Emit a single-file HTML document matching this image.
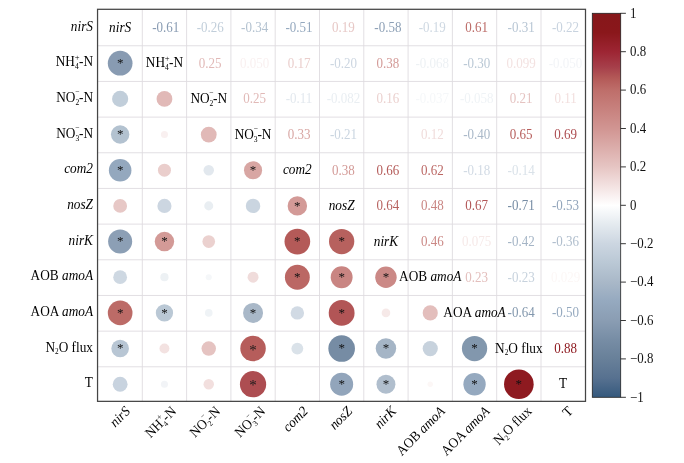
<!DOCTYPE html><html><head><meta charset="utf-8"><style>html,body{margin:0;padding:0;background:#fff;width:684px;height:463px;overflow:hidden;position:relative}svg text{font-family:"Liberation Serif",serif}</style></head><body><svg width="684" height="463" viewBox="0 0 684 463" style="position:absolute;left:0;top:0;will-change:transform;filter:blur(0.45px)">
<defs><linearGradient id="cb" x1="0" y1="0" x2="0" y2="1">
<stop offset="0.000" stop-color="#86171a"/>
<stop offset="0.050" stop-color="#8a171b"/>
<stop offset="0.100" stop-color="#9d2533"/>
<stop offset="0.140" stop-color="#a63f4a"/>
<stop offset="0.170" stop-color="#b45a58"/>
<stop offset="0.200" stop-color="#be6e6a"/>
<stop offset="0.300" stop-color="#d19592"/>
<stop offset="0.400" stop-color="#e6c5c3"/>
<stop offset="0.450" stop-color="#f3e2e1"/>
<stop offset="0.500" stop-color="#ffffff"/>
<stop offset="0.550" stop-color="#e4eaef"/>
<stop offset="0.600" stop-color="#ccd6e1"/>
<stop offset="0.650" stop-color="#bac8d5"/>
<stop offset="0.700" stop-color="#a9b8c8"/>
<stop offset="0.750" stop-color="#95a9bf"/>
<stop offset="0.800" stop-color="#8a9db3"/>
<stop offset="0.850" stop-color="#778da5"/>
<stop offset="0.900" stop-color="#688099"/>
<stop offset="0.950" stop-color="#577190"/>
<stop offset="1.000" stop-color="#35597d"/>
</linearGradient></defs>
<rect width="684" height="463" fill="#fff"/>
<path d="M142.30 9.3V401.35M97.55 45.77H585.5M186.60 9.3V401.35M97.55 81.44H585.5M230.90 9.3V401.35M97.55 117.11H585.5M275.20 9.3V401.35M97.55 152.78H585.5M319.50 9.3V401.35M97.55 188.45H585.5M363.80 9.3V401.35M97.55 224.12H585.5M408.10 9.3V401.35M97.55 259.79H585.5M452.40 9.3V401.35M97.55 295.46H585.5M496.70 9.3V401.35M97.55 331.13H585.5M541.00 9.3V401.35M97.55 366.80H585.5" stroke="#dfdbe0" stroke-width="0.9" fill="none"/>
<circle cx="120.15" cy="63.20" r="12.34" fill="#889bb2"/>
<circle cx="120.15" cy="98.88" r="8.06" fill="#c1ceda"/>
<circle cx="164.45" cy="98.88" r="7.90" fill="#e1b9b7"/>
<circle cx="120.15" cy="134.54" r="9.21" fill="#b3c2d0"/>
<circle cx="164.45" cy="134.54" r="3.53" fill="#f9f0f0"/>
<circle cx="208.75" cy="134.54" r="7.90" fill="#e1b9b7"/>
<circle cx="120.15" cy="170.22" r="11.28" fill="#94a8be"/>
<circle cx="164.45" cy="170.22" r="6.51" fill="#eacecc"/>
<circle cx="208.75" cy="170.22" r="5.24" fill="#e2e8ee"/>
<circle cx="253.05" cy="170.22" r="9.08" fill="#d8a6a3"/>
<circle cx="120.15" cy="205.88" r="6.89" fill="#e7c8c6"/>
<circle cx="164.45" cy="205.88" r="7.07" fill="#ccd6e1"/>
<circle cx="208.75" cy="205.88" r="4.52" fill="#e9eef2"/>
<circle cx="253.05" cy="205.88" r="7.24" fill="#cad5e0"/>
<circle cx="297.35" cy="205.88" r="9.74" fill="#d39a97"/>
<circle cx="120.15" cy="241.56" r="12.03" fill="#8c9fb5"/>
<circle cx="164.45" cy="241.56" r="9.74" fill="#d39a97"/>
<circle cx="208.75" cy="241.56" r="6.32" fill="#ebd1cf"/>
<circle cx="253.05" cy="241.56" r="1.00" fill="#fffefe"/>
<circle cx="297.35" cy="241.56" r="12.84" fill="#b45a58"/>
<circle cx="341.65" cy="241.56" r="12.64" fill="#b7615e"/>
<circle cx="120.15" cy="277.23" r="6.89" fill="#ced8e2"/>
<circle cx="164.45" cy="277.23" r="4.12" fill="#edf1f4"/>
<circle cx="208.75" cy="277.23" r="3.04" fill="#f5f7f9"/>
<circle cx="253.05" cy="277.23" r="5.47" fill="#f0dcdb"/>
<circle cx="297.35" cy="277.23" r="12.44" fill="#bb6764"/>
<circle cx="341.65" cy="277.23" r="10.95" fill="#c98582"/>
<circle cx="385.95" cy="277.23" r="10.72" fill="#cb8986"/>
<circle cx="120.15" cy="312.89" r="12.34" fill="#bc6b67"/>
<circle cx="164.45" cy="312.89" r="8.65" fill="#bac8d5"/>
<circle cx="208.75" cy="312.89" r="3.81" fill="#eff3f6"/>
<circle cx="253.05" cy="312.89" r="9.99" fill="#a9b8c8"/>
<circle cx="297.35" cy="312.89" r="6.70" fill="#d1dae4"/>
<circle cx="341.65" cy="312.89" r="12.93" fill="#b25556"/>
<circle cx="385.95" cy="312.89" r="4.33" fill="#f6e9e8"/>
<circle cx="430.25" cy="312.89" r="7.58" fill="#e3bebc"/>
<circle cx="120.15" cy="348.56" r="8.80" fill="#b8c6d4"/>
<circle cx="164.45" cy="348.56" r="4.97" fill="#f3e2e1"/>
<circle cx="208.75" cy="348.56" r="7.24" fill="#e5c3c1"/>
<circle cx="253.05" cy="348.56" r="12.74" fill="#b65d5b"/>
<circle cx="297.35" cy="348.56" r="5.91" fill="#dae2e9"/>
<circle cx="341.65" cy="348.56" r="13.31" fill="#768ca4"/>
<circle cx="385.95" cy="348.56" r="10.24" fill="#a5b5c6"/>
<circle cx="430.25" cy="348.56" r="7.58" fill="#c7d2dd"/>
<circle cx="474.55" cy="348.56" r="12.64" fill="#8297ad"/>
<circle cx="120.15" cy="384.24" r="7.41" fill="#c8d3df"/>
<circle cx="164.45" cy="384.24" r="3.53" fill="#f2f4f7"/>
<circle cx="208.75" cy="384.24" r="5.24" fill="#f2dfde"/>
<circle cx="253.05" cy="384.24" r="13.12" fill="#ad4d51"/>
<circle cx="297.35" cy="384.24" r="1.00" fill="#fffefe"/>
<circle cx="341.65" cy="384.24" r="11.50" fill="#92a5bb"/>
<circle cx="385.95" cy="384.24" r="9.48" fill="#b0becd"/>
<circle cx="430.25" cy="384.24" r="2.69" fill="#fcf7f6"/>
<circle cx="474.55" cy="384.24" r="11.17" fill="#95a9bf"/>
<circle cx="518.85" cy="384.24" r="14.82" fill="#8e1a20"/>
<g font-family="Liberation Serif" font-size="14">
<text transform="translate(165.77 31.84) scale(0.93 1)" text-anchor="middle" fill="#889bb2">-0.61</text>
<text transform="translate(210.19 31.84) scale(0.93 1)" text-anchor="middle" fill="#c1ceda">-0.26</text>
<text transform="translate(254.61 31.84) scale(0.93 1)" text-anchor="middle" fill="#b3c2d0">-0.34</text>
<text transform="translate(299.03 31.84) scale(0.93 1)" text-anchor="middle" fill="#94a8be">-0.51</text>
<text transform="translate(343.45 31.84) scale(0.93 1)" text-anchor="middle" fill="#e7c8c6">0.19</text>
<text transform="translate(387.87 31.84) scale(0.93 1)" text-anchor="middle" fill="#8c9fb5">-0.58</text>
<text transform="translate(432.29 31.84) scale(0.93 1)" text-anchor="middle" fill="#ced8e2">-0.19</text>
<text transform="translate(476.71 31.84) scale(0.93 1)" text-anchor="middle" fill="#bc6b67">0.61</text>
<text transform="translate(521.13 31.84) scale(0.93 1)" text-anchor="middle" fill="#b8c6d4">-0.31</text>
<text transform="translate(565.55 31.84) scale(0.93 1)" text-anchor="middle" fill="#c8d3df">-0.22</text>
<text transform="translate(210.19 67.50) scale(0.93 1)" text-anchor="middle" fill="#e1b9b7">0.25</text>
<text transform="translate(254.61 67.50) scale(0.93 1)" text-anchor="middle" fill="#f9f0f0">0.050</text>
<text transform="translate(299.03 67.50) scale(0.93 1)" text-anchor="middle" fill="#eacecc">0.17</text>
<text transform="translate(343.45 67.50) scale(0.93 1)" text-anchor="middle" fill="#ccd6e1">-0.20</text>
<text transform="translate(387.87 67.50) scale(0.93 1)" text-anchor="middle" fill="#d39a97">0.38</text>
<text transform="translate(432.29 67.50) scale(0.93 1)" text-anchor="middle" fill="#edf1f4">-0.068</text>
<text transform="translate(476.71 67.50) scale(0.93 1)" text-anchor="middle" fill="#bac8d5">-0.30</text>
<text transform="translate(521.13 67.50) scale(0.93 1)" text-anchor="middle" fill="#f3e2e1">0.099</text>
<text transform="translate(565.55 67.50) scale(0.93 1)" text-anchor="middle" fill="#f2f4f7">-0.050</text>
<text transform="translate(254.61 103.18) scale(0.93 1)" text-anchor="middle" fill="#e1b9b7">0.25</text>
<text transform="translate(299.03 103.18) scale(0.93 1)" text-anchor="middle" fill="#e2e8ee">-0.11</text>
<text transform="translate(343.45 103.18) scale(0.93 1)" text-anchor="middle" fill="#e9eef2">-0.082</text>
<text transform="translate(387.87 103.18) scale(0.93 1)" text-anchor="middle" fill="#ebd1cf">0.16</text>
<text transform="translate(432.29 103.18) scale(0.93 1)" text-anchor="middle" fill="#f5f7f9">-0.037</text>
<text transform="translate(476.71 103.18) scale(0.93 1)" text-anchor="middle" fill="#eff3f6">-0.058</text>
<text transform="translate(521.13 103.18) scale(0.93 1)" text-anchor="middle" fill="#e5c3c1">0.21</text>
<text transform="translate(565.55 103.18) scale(0.93 1)" text-anchor="middle" fill="#f2dfde">0.11</text>
<text transform="translate(299.03 138.84) scale(0.93 1)" text-anchor="middle" fill="#d8a6a3">0.33</text>
<text transform="translate(343.45 138.84) scale(0.93 1)" text-anchor="middle" fill="#cad5e0">-0.21</text>
<text transform="translate(432.29 138.84) scale(0.93 1)" text-anchor="middle" fill="#f0dcdb">0.12</text>
<text transform="translate(476.71 138.84) scale(0.93 1)" text-anchor="middle" fill="#a9b8c8">-0.40</text>
<text transform="translate(521.13 138.84) scale(0.93 1)" text-anchor="middle" fill="#b65d5b">0.65</text>
<text transform="translate(565.55 138.84) scale(0.93 1)" text-anchor="middle" fill="#ad4d51">0.69</text>
<text transform="translate(343.45 174.52) scale(0.93 1)" text-anchor="middle" fill="#d39a97">0.38</text>
<text transform="translate(387.87 174.52) scale(0.93 1)" text-anchor="middle" fill="#b45a58">0.66</text>
<text transform="translate(432.29 174.52) scale(0.93 1)" text-anchor="middle" fill="#bb6764">0.62</text>
<text transform="translate(476.71 174.52) scale(0.93 1)" text-anchor="middle" fill="#d1dae4">-0.18</text>
<text transform="translate(521.13 174.52) scale(0.93 1)" text-anchor="middle" fill="#dae2e9">-0.14</text>
<text transform="translate(387.87 210.19) scale(0.93 1)" text-anchor="middle" fill="#b7615e">0.64</text>
<text transform="translate(432.29 210.19) scale(0.93 1)" text-anchor="middle" fill="#c98582">0.48</text>
<text transform="translate(476.71 210.19) scale(0.93 1)" text-anchor="middle" fill="#b25556">0.67</text>
<text transform="translate(521.13 210.19) scale(0.93 1)" text-anchor="middle" fill="#768ca4">-0.71</text>
<text transform="translate(565.55 210.19) scale(0.93 1)" text-anchor="middle" fill="#92a5bb">-0.53</text>
<text transform="translate(432.29 245.86) scale(0.93 1)" text-anchor="middle" fill="#cb8986">0.46</text>
<text transform="translate(476.71 245.86) scale(0.93 1)" text-anchor="middle" fill="#f6e9e8">0.075</text>
<text transform="translate(521.13 245.86) scale(0.93 1)" text-anchor="middle" fill="#a5b5c6">-0.42</text>
<text transform="translate(565.55 245.86) scale(0.93 1)" text-anchor="middle" fill="#b0becd">-0.36</text>
<text transform="translate(476.71 281.53) scale(0.93 1)" text-anchor="middle" fill="#e3bebc">0.23</text>
<text transform="translate(521.13 281.53) scale(0.93 1)" text-anchor="middle" fill="#c7d2dd">-0.23</text>
<text transform="translate(565.55 281.53) scale(0.93 1)" text-anchor="middle" fill="#fcf7f6">0.029</text>
<text transform="translate(521.13 317.19) scale(0.93 1)" text-anchor="middle" fill="#8297ad">-0.64</text>
<text transform="translate(565.55 317.19) scale(0.93 1)" text-anchor="middle" fill="#95a9bf">-0.50</text>
<text transform="translate(565.55 352.87) scale(0.93 1)" text-anchor="middle" fill="#8e1a20">0.88</text>
<text transform="translate(120.15 67.11)" text-anchor="middle" font-size="13" fill="#111">*</text>
<text transform="translate(120.15 138.44)" text-anchor="middle" font-size="13" fill="#111">*</text>
<text transform="translate(120.15 174.12)" text-anchor="middle" font-size="13" fill="#111">*</text>
<text transform="translate(253.05 174.12)" text-anchor="middle" font-size="13" fill="#111">*</text>
<text transform="translate(297.35 209.78)" text-anchor="middle" font-size="13" fill="#111">*</text>
<text transform="translate(120.15 245.46)" text-anchor="middle" font-size="13" fill="#111">*</text>
<text transform="translate(164.45 245.46)" text-anchor="middle" font-size="13" fill="#111">*</text>
<text transform="translate(297.35 245.46)" text-anchor="middle" font-size="13" fill="#111">*</text>
<text transform="translate(341.65 245.46)" text-anchor="middle" font-size="13" fill="#111">*</text>
<text transform="translate(297.35 281.12)" text-anchor="middle" font-size="13" fill="#111">*</text>
<text transform="translate(341.65 281.12)" text-anchor="middle" font-size="13" fill="#111">*</text>
<text transform="translate(385.95 281.12)" text-anchor="middle" font-size="13" fill="#111">*</text>
<text transform="translate(120.15 316.79)" text-anchor="middle" font-size="13" fill="#111">*</text>
<text transform="translate(164.45 316.79)" text-anchor="middle" font-size="13" fill="#111">*</text>
<text transform="translate(253.05 316.79)" text-anchor="middle" font-size="13" fill="#111">*</text>
<text transform="translate(341.65 316.79)" text-anchor="middle" font-size="13" fill="#111">*</text>
<text transform="translate(120.15 352.46)" text-anchor="middle" font-size="13" fill="#111">*</text>
<text transform="translate(253.05 354.56)" text-anchor="middle" font-size="15" fill="#1a1a1a">*</text>
<text transform="translate(341.65 352.46)" text-anchor="middle" font-size="13" fill="#111">*</text>
<text transform="translate(385.95 352.46)" text-anchor="middle" font-size="13" fill="#111">*</text>
<text transform="translate(474.55 352.46)" text-anchor="middle" font-size="13" fill="#111">*</text>
<text transform="translate(253.05 390.24)" text-anchor="middle" font-size="15" fill="#1a1a1a">*</text>
<text transform="translate(341.65 388.13)" text-anchor="middle" font-size="13" fill="#111">*</text>
<text transform="translate(385.95 388.13)" text-anchor="middle" font-size="13" fill="#111">*</text>
<text transform="translate(474.55 388.13)" text-anchor="middle" font-size="13" fill="#111">*</text>
<text transform="translate(518.85 388.13)" text-anchor="middle" font-size="13" fill="#111">*</text>
<text transform="translate(120.15 31.54) scale(0.95 1)" text-anchor="middle" fill="#000"><tspan font-style="italic">nirS</tspan></text>
<text transform="translate(164.45 67.20) scale(0.95 1)" text-anchor="middle" fill="#000">NH<tspan font-size="8" dy="3">4</tspan><tspan font-size="9" dx="-4.2" dy="-9">+</tspan><tspan dx="-0.6" dy="6">-N</tspan></text>
<text transform="translate(208.75 102.88) scale(0.95 1)" text-anchor="middle" fill="#000">NO<tspan font-size="8" dy="3">2</tspan><tspan font-size="8" dx="-4.2" dy="-10.5">&#8722;</tspan><tspan dx="-0.6" dy="7.5">-N</tspan></text>
<text transform="translate(253.05 138.54) scale(0.95 1)" text-anchor="middle" fill="#000">NO<tspan font-size="8" dy="3">3</tspan><tspan font-size="8" dx="-4.2" dy="-10.5">&#8722;</tspan><tspan dx="-0.6" dy="7.5">-N</tspan></text>
<text transform="translate(297.35 174.22) scale(0.95 1)" text-anchor="middle" fill="#000"><tspan font-style="italic">com2</tspan></text>
<text transform="translate(341.65 209.88) scale(0.95 1)" text-anchor="middle" fill="#000"><tspan font-style="italic">nosZ</tspan></text>
<text transform="translate(385.95 245.56) scale(0.95 1)" text-anchor="middle" fill="#000"><tspan font-style="italic">nirK</tspan></text>
<text transform="translate(430.25 281.23) scale(0.95 1)" text-anchor="middle" fill="#000">AOB <tspan font-style="italic">amoA</tspan></text>
<text transform="translate(474.55 316.89) scale(0.95 1)" text-anchor="middle" fill="#000">AOA <tspan font-style="italic">amoA</tspan></text>
<text transform="translate(518.85 352.56) scale(0.95 1)" text-anchor="middle" fill="#000">N<tspan font-size="7.6" dy="2.8">2</tspan><tspan dy="-2.8">O flux</tspan></text>
<text transform="translate(563.15 388.24) scale(0.95 1)" text-anchor="middle" fill="#000">T</text>
<text transform="translate(93.00 30.54) scale(0.95 1)" text-anchor="end" fill="#000"><tspan font-style="italic">nirS</tspan></text>
<text transform="translate(93.00 66.20) scale(0.95 1)" text-anchor="end" fill="#000">NH<tspan font-size="8" dy="3">4</tspan><tspan font-size="9" dx="-4.2" dy="-9">+</tspan><tspan dx="-0.6" dy="6">-N</tspan></text>
<text transform="translate(93.00 101.88) scale(0.95 1)" text-anchor="end" fill="#000">NO<tspan font-size="8" dy="3">2</tspan><tspan font-size="8" dx="-4.2" dy="-10.5">&#8722;</tspan><tspan dx="-0.6" dy="7.5">-N</tspan></text>
<text transform="translate(93.00 137.54) scale(0.95 1)" text-anchor="end" fill="#000">NO<tspan font-size="8" dy="3">3</tspan><tspan font-size="8" dx="-4.2" dy="-10.5">&#8722;</tspan><tspan dx="-0.6" dy="7.5">-N</tspan></text>
<text transform="translate(93.00 173.22) scale(0.95 1)" text-anchor="end" fill="#000"><tspan font-style="italic">com2</tspan></text>
<text transform="translate(93.00 208.88) scale(0.95 1)" text-anchor="end" fill="#000"><tspan font-style="italic">nosZ</tspan></text>
<text transform="translate(93.00 244.56) scale(0.95 1)" text-anchor="end" fill="#000"><tspan font-style="italic">nirK</tspan></text>
<text transform="translate(93.00 280.23) scale(0.95 1)" text-anchor="end" fill="#000">AOB <tspan font-style="italic">amoA</tspan></text>
<text transform="translate(93.00 315.89) scale(0.95 1)" text-anchor="end" fill="#000">AOA <tspan font-style="italic">amoA</tspan></text>
<text transform="translate(93.00 351.56) scale(0.95 1)" text-anchor="end" fill="#000">N<tspan font-size="7.6" dy="2.8">2</tspan><tspan dy="-2.8">O flux</tspan></text>
<text transform="translate(93.00 387.24) scale(0.95 1)" text-anchor="end" fill="#000">T</text>
<text transform="translate(130.85 412.05) rotate(-45) scale(0.95 1)" text-anchor="end" fill="#000"><tspan font-style="italic">nirS</tspan></text>
<text transform="translate(176.95 412.05) rotate(-45) scale(0.95 1)" text-anchor="end" fill="#000">NH<tspan font-size="8" dy="3">4</tspan><tspan font-size="9" dx="-4.2" dy="-9">+</tspan><tspan dx="-0.6" dy="6">-N</tspan></text>
<text transform="translate(220.95 412.05) rotate(-45) scale(0.95 1)" text-anchor="end" fill="#000">NO<tspan font-size="8" dy="3">2</tspan><tspan font-size="8" dx="-4.2" dy="-10.5">&#8722;</tspan><tspan dx="-0.6" dy="7.5">-N</tspan></text>
<text transform="translate(266.05 412.05) rotate(-45) scale(0.95 1)" text-anchor="end" fill="#000">NO<tspan font-size="8" dy="3">3</tspan><tspan font-size="8" dx="-4.2" dy="-10.5">&#8722;</tspan><tspan dx="-0.6" dy="7.5">-N</tspan></text>
<text transform="translate(308.65 412.05) rotate(-45) scale(0.95 1)" text-anchor="end" fill="#000"><tspan font-style="italic">com2</tspan></text>
<text transform="translate(352.95 412.05) rotate(-45) scale(0.95 1)" text-anchor="end" fill="#000"><tspan font-style="italic">nosZ</tspan></text>
<text transform="translate(397.15 412.05) rotate(-45) scale(0.95 1)" text-anchor="end" fill="#000"><tspan font-style="italic">nirK</tspan></text>
<text transform="translate(445.75 412.05) rotate(-45) scale(0.95 1)" text-anchor="end" fill="#000">AOB <tspan font-style="italic">amoA</tspan></text>
<text transform="translate(490.55 412.05) rotate(-45) scale(0.95 1)" text-anchor="end" fill="#000">AOA <tspan font-style="italic">amoA</tspan></text>
<text transform="translate(532.35 412.05) rotate(-45) scale(0.95 1)" text-anchor="end" fill="#000">N<tspan font-size="7.6" dy="2.8">2</tspan><tspan dy="-2.8">O flux</tspan></text>
<text transform="translate(573.85 412.05) rotate(-45) scale(0.95 1)" text-anchor="end" fill="#000">T</text>
</g>
<rect x="97.55" y="9.3" width="487.95" height="392.05" fill="none" stroke="#454545" stroke-width="1.25"/>
<rect x="592.3" y="13.3" width="28.40" height="384.00" fill="url(#cb)" stroke="#222" stroke-width="0.8"/>
<g font-family="Liberation Serif" font-size="14.3" fill="#111">
<text transform="translate(630 17.60) scale(0.9 1)">1</text>
<text transform="translate(630 56.00) scale(0.9 1)">0.8</text>
<text transform="translate(630 94.40) scale(0.9 1)">0.6</text>
<text transform="translate(630 132.80) scale(0.9 1)">0.4</text>
<text transform="translate(630 171.20) scale(0.9 1)">0.2</text>
<text transform="translate(630 209.60) scale(0.9 1)">0</text>
<text transform="translate(630 248.00) scale(0.9 1)">&#8722;0.2</text>
<text transform="translate(630 286.40) scale(0.9 1)">&#8722;0.4</text>
<text transform="translate(630 324.80) scale(0.9 1)">&#8722;0.6</text>
<text transform="translate(630 363.20) scale(0.9 1)">&#8722;0.8</text>
<text transform="translate(630 401.60) scale(0.9 1)">&#8722;1</text>
</g>
<path d="M620.7 13.30H625.9000000000001M620.7 51.70H625.9000000000001M620.7 90.10H625.9000000000001M620.7 128.50H625.9000000000001M620.7 166.90H625.9000000000001M620.7 205.30H625.9000000000001M620.7 243.70H625.9000000000001M620.7 282.10H625.9000000000001M620.7 320.50H625.9000000000001M620.7 358.90H625.9000000000001M620.7 397.30H625.9000000000001" stroke="#222" stroke-width="0.9"/>
</svg></body></html>
